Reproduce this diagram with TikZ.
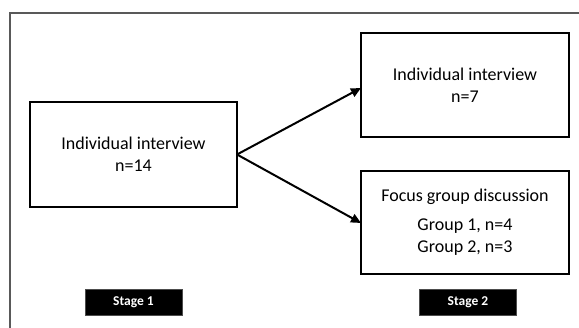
\documentclass[tikz,border=0pt]{standalone}
\usepackage{fontspec}
\setmainfont{Carlito}
\usetikzlibrary{arrows.meta}
\begin{document}
\begin{tikzpicture}[x=1pt,y=-1pt,
  box/.style={draw=black,line width=2.6pt,fill=white,inner sep=0pt},
  stagebox/.style={draw=black!70,line width=0.8pt,fill=black,text=white,font=\bfseries\fontsize{13.5}{15}\selectfont,inner sep=0pt},
  txt/.style={font=\fontsize{18}{21}\selectfont,inner sep=0pt},
  arr/.style={line width=2pt,-{Triangle[length=10pt,width=9pt]}}]
\useasboundingbox (0,0) rectangle (579,328);
\fill[white] (0,0) rectangle (579,328);
\draw[black!65,line width=1.5pt] (10,330) -- (10,13) -- (581,13);
% boxes
\draw[box] (30,102) rectangle (237,207);
\coordinate (Aeast) at (237,154.5);
\draw[box] (361,33) rectangle (569,137);
\coordinate (Bwest) at (361,88);
\draw[box] (361,171) rectangle (569,274);
\coordinate (Cwest) at (361,223);
\node[txt] (t1) at (133.5,143) {Individual interview};
\node[txt] (t2) at (133.5,166) {n=14};
\node[txt] (t3) at (465,74) {Individual interview};
\node[txt] (t4) at (465,97) {n=7};
\node[txt] (t5) at (465,197) {Focus group discussion};
\node[txt] (t6) at (465,226) {Group 1, n=4};
\node[txt] (t7) at (465,248) {Group 2, n=3};
\draw[arr] (Aeast) -- (Bwest);
\draw[arr] (Aeast) -- (Cwest);
\node[stagebox,minimum width=97pt,minimum height=26pt] (s1) at (133.5,302) {Stage 1};
\node[stagebox,minimum width=97pt,minimum height=26pt] (s2) at (468,302) {Stage 2};
\end{tikzpicture}
\end{document}
